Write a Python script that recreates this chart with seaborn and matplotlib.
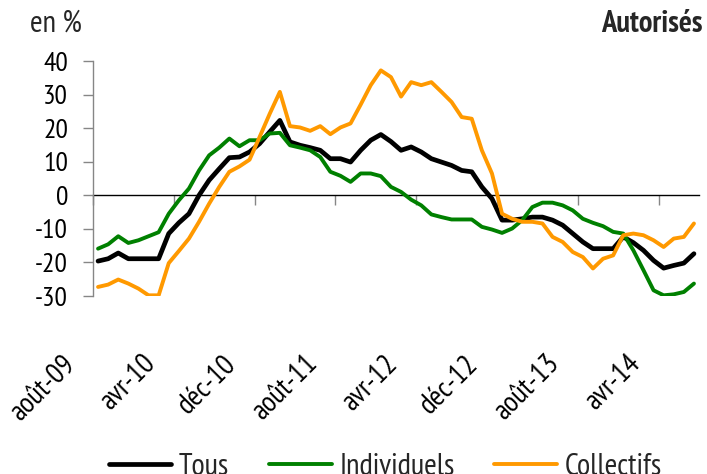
import matplotlib
matplotlib.use("Agg")
import matplotlib.pyplot as plt
import matplotlib.transforms as mtransforms
import numpy as np
import pandas as pd
import seaborn as sns

# Monthly values, août-09 .. juil-14 (en %)
tous = [-19.6, -18.9, -17.2, -18.9, -18.9, -18.9, -18.9, -11.4, -8.2, -5.5,
        0.0, 4.5, 7.9, 11.2, 11.4, 12.9, 15.4, 18.9, 22.3, 15.9,
        14.9, 14.2, 13.4, 10.9, 10.9, 9.9, 13.4, 16.4, 18.1, 16.0,
        13.4, 14.4, 12.9, 10.9, 9.9, 8.9, 7.4, 7.0, 2.5, -1.0,
        -7.4, -7.4, -7.0, -6.5, -6.5, -7.4, -8.9, -11.4, -13.9, -15.9,
        -15.9, -15.9, -12.4, -14.1, -16.4, -19.4, -21.7, -20.9, -20.2, -17.4]
individuels = [-15.9, -14.6, -12.2, -14.2, -13.4, -12.2, -11.0, -5.5, -1.5, 2.0,
               7.4, 11.9, 14.2, 16.9, 14.6, 16.4, 16.4, 18.4, 18.6, 14.9,
               14.2, 13.4, 11.4, 7.0, 5.8, 4.0, 6.5, 6.5, 5.7, 2.5,
               1.0, -1.3, -3.0, -5.7, -6.5, -7.2, -7.2, -7.2, -9.4, -10.2,
               -11.2, -9.9, -7.4, -3.5, -2.2, -2.2, -3.0, -4.5, -7.0, -8.2,
               -9.2, -10.9, -11.4, -16.4, -22.3, -28.3, -29.8, -29.5, -28.8, -26.3]
collectifs = [-27.3, -26.6, -25.1, -26.3, -27.8, -29.8, -29.8, -20.2, -16.6, -12.9,
              -7.9, -2.5, 2.5, 7.0, 8.6, 10.6, 17.4, 24.3, 30.8, 20.6,
              20.2, 19.2, 20.6, 18.2, 20.2, 21.4, 27.0, 32.8, 37.2, 35.2,
              29.4, 33.7, 32.8, 33.7, 30.8, 27.8, 23.3, 22.8, 13.4, 6.5,
              -5.5, -7.0, -7.9, -7.9, -8.4, -12.4, -13.9, -16.9, -18.4, -21.8,
              -18.9, -17.9, -11.9, -11.4, -11.9, -13.4, -15.4, -12.9, -12.4, -8.4]

series_names = ["Tous", "Individuels", "Collectifs"]
x_labels = ["août-09", "avr-10", "déc-10", "août-11", "avr-12",
            "déc-12", "août-13", "avr-14"]
y_ticks = [-30, -20, -10, 0, 10, 20, 30, 40]
label_step = 8

colors = {"Tous": "#000000", "Individuels": "#008000", "Collectifs": "#FF9900"}
widths = {"Tous": 3.4, "Individuels": 2.8, "Collectifs": 2.8}

sns.set_theme(style="white")
plt.rcParams["font.family"] = ["PT Sans Narrow", "Roboto Condensed", "DejaVu Sans"]
plt.rcParams["axes.unicode_minus"] = False

n = len(tous)
idx = np.arange(n)
df = pd.DataFrame({
    "mois": np.tile(idx, 3),
    "valeur": tous + individuels + collectifs,
    "serie": np.repeat(series_names, n),
})

W, H = 707, 474
fig = plt.figure(figsize=(W / 100, H / 100), dpi=100)
ax = fig.add_axes([93 / W, 1 - 296 / H, 606 / W, 235 / H])

for name in series_names:
    sns.lineplot(data=df[df["serie"] == name], x="mois", y="valeur",
                 color=colors[name], lw=widths[name], label=name, ax=ax,
                 solid_joinstyle="round")

ax.set_xlim(-0.5, n - 0.5)
ax.set_ylim(y_ticks[0], y_ticks[-1])
ax.set_xlabel("")
ax.set_ylabel("")
for side in ["top", "right", "bottom"]:
    ax.spines[side].set_visible(False)
ax.spines["left"].set_color("#868686")
ax.spines["left"].set_linewidth(1)

ax.set_yticks(y_ticks)
ax.tick_params(axis="y", direction="out", length=7, width=1, color="#868686",
               pad=11, labelsize=20, labelcolor="black", left=True)

ax.set_xticks(idx[::label_step])
ax.set_xticklabels(x_labels, rotation=45, ha="right")
ax.tick_params(axis="x", length=0, pad=39, labelsize=21, labelcolor="black")
shift = mtransforms.ScaledTranslation(-18 / 100, 0, fig.dpi_scale_trans)
for lab in ax.get_xticklabels():
    lab.set_transform(lab.get_transform() + shift)

# zero line with category tick marks
zero_pos = (0 - y_ticks[0]) / (y_ticks[-1] - y_ticks[0])
sec = ax.secondary_xaxis(zero_pos)
sec.set_xticks(np.arange(-0.5, n, label_step))
sec.tick_params(axis="x", direction="out", length=7, width=1, color="#868686",
                labelbottom=False, labeltop=False)
sec.spines["bottom"].set_color("black")
sec.spines["bottom"].set_linewidth(1)

handles, labels = ax.get_legend_handles_labels()
ax.get_legend().remove()
fig.legend(handles, labels, loc="center", bbox_to_anchor=(0.545, 0.015),
           ncol=3, frameon=False, fontsize=22, handlelength=2.05,
           handletextpad=0.25, columnspacing=1.3)

fig.text(30 / W, 1 - 24 / H, "en %", ha="left", va="center", fontsize=22)
fig.text(703 / W, 1 - 24 / H, "Autorisés", ha="right", va="center",
         fontsize=22, fontweight="bold")

fig.savefig("out.png", dpi=100)
